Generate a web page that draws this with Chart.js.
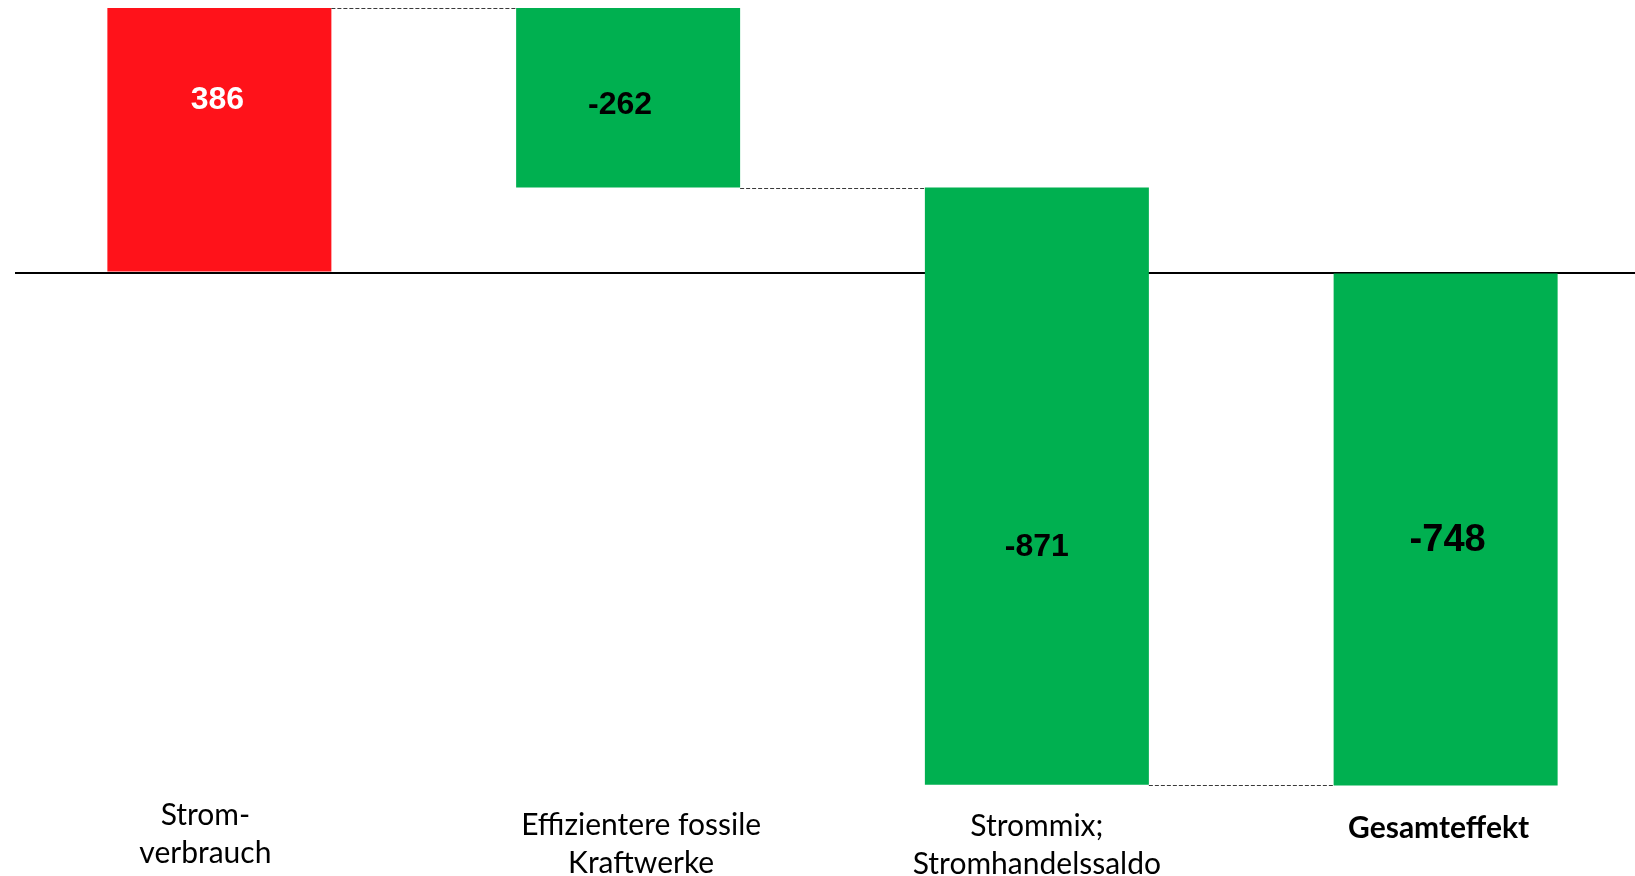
<!DOCTYPE html>
<html>
<head>
<meta charset="utf-8">
<script src="https://cdn.jsdelivr.net/npm/chart.js@4/dist/chart.umd.min.js"></script>
<style>
  html, body { margin: 0; padding: 0; background: #fff; overflow: hidden; }
  #wrap { position: absolute; left: 0; top: 0; width: 1650px; height: 876px; }
</style>
</head>
<body>
<div id="wrap"><canvas id="c"></canvas></div>
<script>
// ---- data ----
const categories = [
  ["Strom-", "verbrauch"],
  ["Effizientere fossile", "Kraftwerke"],
  ["Strommix;", "Stromhandelssaldo"],
  ["Gesamteffekt"]
];
const changes = [386, -262, -871];      // individual effects
const total = -748;                      // overall effect
const valueLabels = ["386", "-262", "-871", "-748"];

// ---- build floating bars ----
const bars = [];
let run = 0;
changes.forEach(v => { bars.push([run, run + v]); run += v; });
bars.push([0, total]);
const colors = [...changes.map(v => v > 0 ? '#FF121A' : '#00B050'), '#00B050'];

const labelPlugin = {
  id: 'valueLabels',
  afterDatasetsDraw(chart, args, opts) {
    const ctx = chart.ctx;
    const meta = chart.getDatasetMeta(0);
    meta.data.forEach((el, i) => {
      const top = Math.min(el.y, el.base), bot = Math.max(el.y, el.base);
      const cy = (top + bot) / 2 + opts.offsets[i];
      ctx.save();
      ctx.font = 'bold ' + opts.sizes[i] + 'px "Liberation Sans", Arial, sans-serif';
      ctx.fillStyle = opts.colors[i];
      ctx.textAlign = 'center';
      ctx.textBaseline = 'middle';
      ctx.fillText(valueLabels[i], el.x + opts.dx[i], cy);
      ctx.restore();
    });
  }
};

// nudges individual category labels (the reference's text boxes are not perfectly centred)
const tickNudge = {
  id: 'tickNudge',
  beforeDraw(chart, args, opts) {
    const sx = chart.scales.x;
    const items = sx.getLabelItems();
    if (items._nudged) return;
    items.forEach((it, i) => {
      const t = it.options.translation;
      it.options.translation = [t[0] + (opts.dx[i] || 0), t[1] + (opts.dy[i] || 0)];
    });
    items._nudged = true;
  }
};

const connectorPlugin = {
  id: 'connectors',
  afterDatasetsDraw(chart) {
    const ctx = chart.ctx;
    const meta = chart.getDatasetMeta(0);
    const y = chart.scales.y;
    ctx.save();
    ctx.strokeStyle = '#3a3a3a';
    ctx.lineWidth = 1;
    ctx.setLineDash([4, 2]);
    let cum = 0;
    for (let i = 0; i < meta.data.length - 1; i++) {
      cum += (i < changes.length ? changes[i] : 0);
      const a = meta.data[i], b = meta.data[i + 1];
      const py = Math.round(y.getPixelForValue(cum)) + 0.5;
      ctx.beginPath();
      ctx.moveTo(a.x + a.width / 2, py);
      ctx.lineTo(b.x - b.width / 2, py);
      ctx.stroke();
    }
    ctx.restore();
  }
};

new Chart(document.getElementById('c'), {
  type: 'bar',
  data: {
    labels: categories,
    datasets: [{
      data: bars,
      backgroundColor: colors,
      borderWidth: 0,
      barPercentage: 0.548,
      categoryPercentage: 1.0
    }]
  },
  options: {
    responsive: true,
    maintainAspectRatio: false,
    animation: false,
    layout: { padding: { left: 15, right: 0, top: 0, bottom: 0 } },
    plugins: {
      legend: { display: false },
      tooltip: { enabled: false },
      valueLabels: {
        offsets: [-40, 7, 61, 11],
        dx: [-2, -8, 0, 2],
        sizes: [32, 32, 32, 38],
        colors: ['#ffffff', '#000000', '#000000', '#000000']
      },
      tickNudge: {
        dx: [-14, 13, 0, -7],
        dy: [-10, 0, 1, 3]
      }
    },
    scales: {
      x: {
        grid: { display: false, drawTicks: false },
        border: { display: false },
        afterFit: s => { s.height = 85; },
        ticks: {
          color: '#000',
          padding: 15,
          maxRotation: 0,
          autoSkip: false,
          font: ctx => ({
            family: 'Lato, "Open Sans", sans-serif',
            size: 30,
            lineHeight: 1.27,
            weight: ctx.index === 3 ? 'bold' : 'normal'
          })
        }
      },
      y: {
        min: -756,
        max: 397.5,
        afterFit: s => { s.width = 0; },
        border: { display: false },
        ticks: { display: false, stepSize: 100 },
        grid: {
          drawTicks: false,
          lineWidth: 2,
          color: ctx => (ctx.tick && ctx.tick.value === 0) ? '#000000' : 'rgba(0,0,0,0)'
        }
      }
    }
  },
  plugins: [labelPlugin, connectorPlugin, tickNudge]
});
</script>
</body>
</html>
